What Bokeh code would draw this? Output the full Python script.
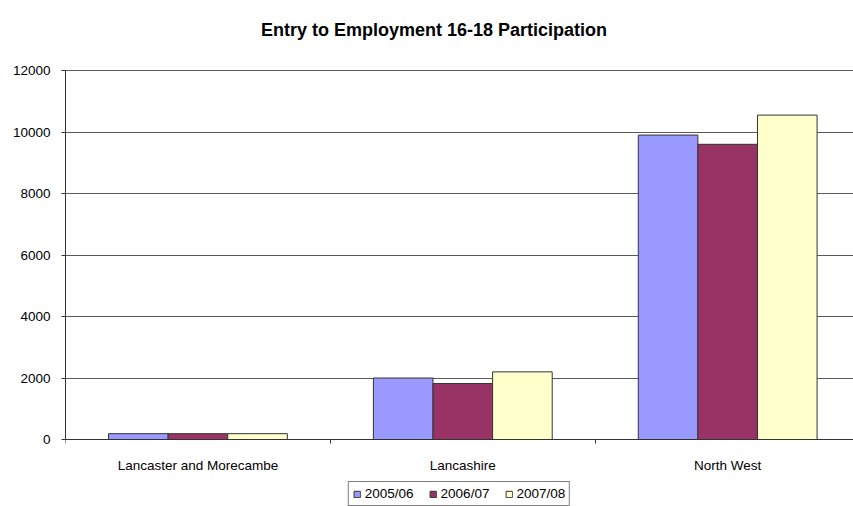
from bokeh.plotting import figure
from bokeh.models import (ColumnDataSource, Range1d, FixedTicker, Legend, LegendItem, Label)
from bokeh.transform import dodge
from bokeh.embed import file_html
from bokeh.resources import INLINE

title_text = "Entry to Employment 16-18 Participation"
categories = ["Lancaster and Morecambe", "Lancashire", "North West"]
years = ["2005/06", "2006/07", "2007/08"]
v_2005_06 = [190, 2000, 9900]
v_2006_07 = [190, 1820, 9600]
v_2007_08 = [190, 2200, 10550]
y_ticks = [0, 2000, 4000, 6000, 8000, 10000, 12000]
colors = ["#9999FF", "#993366", "#FFFFCC"]

FONT = "Liberation Sans"

xc = [i + 0.5 for i in range(len(categories))]
src = ColumnDataSource(dict(xc=xc, a=v_2005_06, b=v_2006_07, c=v_2007_08))

# the frame covers the whole page height: 70px above the data area hold the
# title, 67px below the zero line hold the category labels and the legend
H = 506
y_max = y_ticks[-1]
y_top = y_max * (1 + 70 / 369)
y_bottom = -y_max * 67 / 369

p = figure(width=853, height=H, output_backend="svg", toolbar_location=None,
           x_range=Range1d(0, 2.975), y_range=Range1d(y_bottom, y_top),
           title_location=None,
           min_border_left=65, min_border_right=0, min_border_top=0, min_border_bottom=0)

p.outline_line_color = None
p.background_fill_color = "white"
p.border_fill_color = "white"

p.add_layout(Label(x=368.5, y=H - 29, x_units="screen", y_units="screen",
                   text=title_text, text_align="center", text_baseline="middle",
                   text_font=FONT, text_font_size="18px", text_font_style="bold",
                   text_color="#000000"))

bw = 0.225
renderers = []
for col, off, color in zip(["a", "b", "c"], [-bw, 0, bw], colors):
    r = p.vbar(x=dodge("xc", off), top=col, width=bw, bottom=0, source=src,
               fill_color=color, line_color="#333333", line_width=1)
    renderers.append(r)

p.xgrid.grid_line_color = None
p.ygrid.grid_line_color = "#5a5a5a"
p.ygrid.grid_line_width = 1
p.ygrid.ticker = FixedTicker(ticks=y_ticks)

p.yaxis.ticker = FixedTicker(ticks=y_ticks)
p.yaxis.bounds = (y_ticks[0], y_ticks[-1])
p.yaxis.axis_line_color = "#333333"
p.yaxis.major_tick_line_color = "#333333"
p.yaxis.major_tick_out = 4
p.yaxis.major_tick_in = 0
p.yaxis.minor_tick_line_color = None
p.yaxis.major_label_text_font = FONT
p.yaxis.major_label_text_font_size = "13.5px"
p.yaxis.major_label_text_color = "#000000"
p.yaxis.major_label_standoff = 11

bounds = list(range(len(categories) + 1))
p.xaxis.fixed_location = 0
p.xaxis.ticker = FixedTicker(ticks=xc, minor_ticks=bounds)
overrides = {}
for x, c in zip(xc, categories):
    overrides[x] = c
    overrides[str(x)] = c
p.xaxis.major_label_overrides = overrides
p.xaxis.axis_line_color = "#333333"
p.xaxis.major_tick_line_color = None
p.xaxis.major_tick_out = 0
p.xaxis.major_tick_in = 0
p.xaxis.minor_tick_line_color = "#333333"
p.xaxis.minor_tick_out = 4
p.xaxis.minor_tick_in = 0
p.xaxis.major_label_text_font = FONT
p.xaxis.major_label_text_font_size = "13.5px"
p.xaxis.major_label_text_color = "#000000"
p.xaxis.major_label_standoff = 14

legend = Legend(items=[LegendItem(label=y, renderers=[r]) for y, r in zip(years, renderers)],
                orientation="horizontal", location="bottom_center")
legend.border_line_color = "#000000"
legend.border_line_width = 1
legend.padding = 4
legend.spacing = 15
legend.margin = 0
legend.glyph_width = 8
legend.glyph_height = 8
legend.label_standoff = 4
legend.label_text_font = FONT
legend.label_text_font_size = "13.5px"
legend.label_text_color = "#000000"
legend.label_height = 14
p.add_layout(legend, "center")

open("out.html", "w").write(file_html(p, INLINE))
